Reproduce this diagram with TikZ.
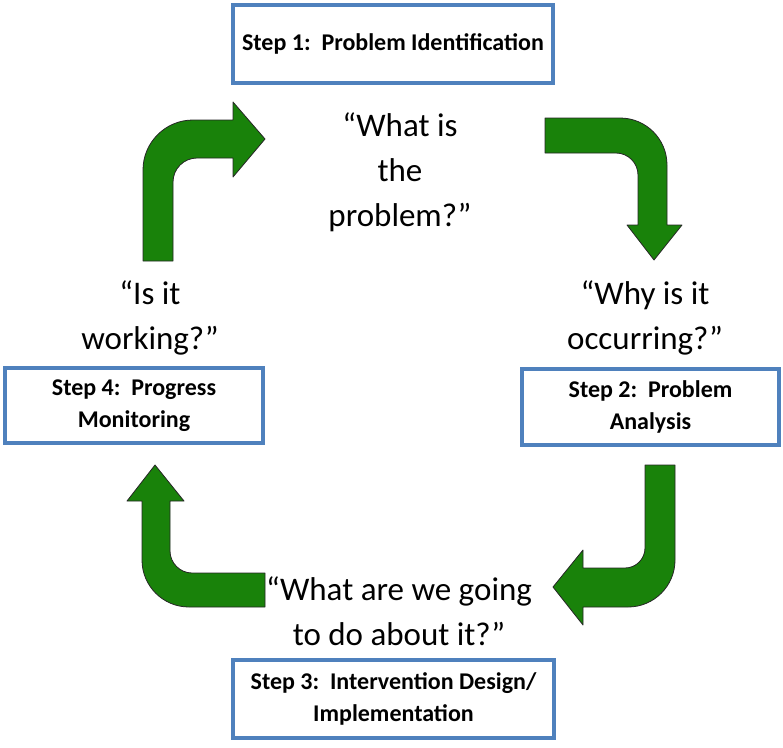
\documentclass[tikz,border=0pt]{standalone}
\usepackage{fontspec}
\setmainfont{Carlito}
\definecolor{stepblue}{RGB}{79,129,189}
\definecolor{arrowgreen}{RGB}{25,130,10}
\tikzset{
  stepbox/.style={draw=stepblue,line width=3.5pt,fill=white,align=center,
    font=\fontsize{24}{32}\selectfont\bfseries,inner sep=0pt},
  question/.style={align=center,font=\fontsize{33}{45}\selectfont},
  bentarrow/.style={fill=arrowgreen,draw=black!85,line width=0.8pt,line join=round}
}
\begin{document}
\begin{tikzpicture}[x=1pt,y=-1pt]
  \useasboundingbox (0,0) rectangle (783,747);

  % the four steps
  \node[stepbox,minimum width=320pt,minimum height=78pt] (identify) at (393,44)
    {Step 1:~~Problem Identification};
  \node[stepbox,minimum width=257pt,minimum height=76pt] (analysis) at (650.5,407)
    {Step 2:~~Problem\\Analysis};
  \node[stepbox,minimum width=321pt,minimum height=78pt] (design) at (393.5,699)
    {Step 3:~~Intervention Design/\\Implementation};
  \node[stepbox,minimum width=258pt,minimum height=75pt] (monitor) at (134,405.5)
    {Step 4:~~Progress\\Monitoring};

  % the questions
  \node[question] (whatis) at (400,172) {``What is\\the\\problem?''};
  \node[question] (why) at (645,318) {``Why is it\\occurring?''};
  \node[question] (doabout) at (399,611) {``What are we going\\to do about it?''};
  \node[question] (working) at (150,318) {``Is it\\working?''};

  % bent arrows
  \draw[bentarrow] (143,261) -- (143,170) .. controls (143,142.4) and (165.4,120) .. (193,120)
    -- (233,120) -- (233,102) -- (265,139) -- (233,177) -- (233,158) -- (197,158)
    .. controls (183.8,158) and (173,168.8) .. (173,182) -- (173,261) -- cycle;
  \draw[bentarrow] (545,118) -- (620,118) .. controls (646,118) and (667,139) .. (667,165)
    -- (667,225) -- (682,225) -- (654,260) -- (627,225) -- (638,225) -- (638,175)
    .. controls (638,162.9) and (628.1,153) .. (616,153) -- (545,153) -- cycle;
  \draw[bentarrow] (645,465) -- (675,465) -- (675,560) .. controls (675,586) and (654,607) .. (628,607)
    -- (583,607) -- (583,625) -- (553,587) -- (583,550) -- (583,568) -- (625,568)
    .. controls (636,568) and (645,559) .. (645,548) -- cycle;
  \draw[bentarrow] (265,573) -- (265,607) -- (189,607) .. controls (163,607) and (142,586) .. (142,560)
    -- (142,501) -- (127,501) -- (155,465) -- (184,501) -- (170,501) -- (170,551)
    .. controls (170,563) and (180,573) .. (192,573) -- cycle;
\end{tikzpicture}
\end{document}
